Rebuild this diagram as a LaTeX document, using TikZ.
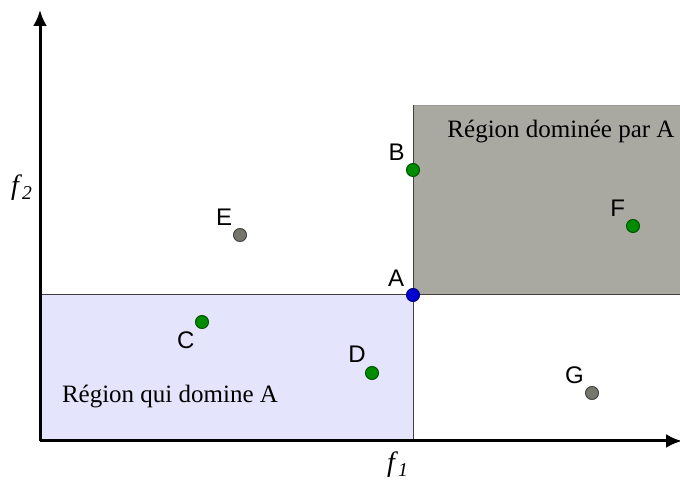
\documentclass[tikz,border=0pt]{standalone}
\usepackage{fontspec}
\setmainfont{Liberation Serif}
\setsansfont{Liberation Sans}
\usetikzlibrary{arrows.meta,positioning}
\definecolor{domblue}{RGB}{228,228,252}
\definecolor{domgray}{RGB}{169,169,162}
\definecolor{ptgreen}{RGB}{0,140,0}
\definecolor{ptgray}{RGB}{118,118,108}
\definecolor{ptblue}{RGB}{0,0,210}

\begin{document}
\begin{tikzpicture}[x=0.5pt,y=0.5pt,
    pt/.style={circle, draw=#1!60!black, fill=#1, line width=0.5pt, minimum size=6.5pt, inner sep=0pt},
    lbl/.style={font=\sffamily\fontsize{12}{14}\selectfont, inner sep=1pt, label distance=1pt},
    region/.style={font=\fontsize{12.5}{15}\selectfont, inner sep=0pt},
    axislbl/.style={font=\fontsize{14}{16}\selectfont, inner sep=0pt},
    axis/.style={line width=1.5pt, -{Latex[length=8pt,width=7pt]}}]
  \useasboundingbox (0,0) rectangle (680,487);

  % Regions
  \fill[domblue] (40,46) rectangle (413,192);
  \fill[domgray] (413,192) rectangle (680,382);
  \draw[black!40, line width=0.4pt] (413,382) -- (680,382);

  % Dividing lines through A
  \coordinate (hl) at (40,192);
  \coordinate (hr) at (680,192);
  \coordinate (vt) at (413,382);
  \coordinate (vb) at (413,46);
  \draw[black!75, line width=0.5pt] (hl) -- (hr);
  \draw[black!75, line width=0.5pt] (vt) -- (vb);

  % Axes
  \coordinate (O) at (40,46);
  \coordinate (ytop) at (40,477);
  \coordinate (xend) at (682,46);
  \draw[axis] (O) -- (ytop);
  \draw[axis] (O) -- (xend);
  \node[axislbl] (f1) at (398,22) {\textit{f}\textsubscript{\textit{1}}};
  \node[axislbl] (f2) at (22,299) {\textit{f}\textsubscript{\textit{2}}};

  % Region labels
  \node[region] (dominee) at (561,355) {Région dominée par A};
  \node[region] (domine) at (170,90) {Région qui domine A};

  % Points
  \foreach \name/\x/\y/\col/\ang in {
      A/413/192/ptblue/135,
      B/413/317/ptgreen/132,
      C/202/165/ptgreen/236,
      D/372/114/ptgreen/116,
      E/240/252/ptgray/128,
      F/633/261/ptgreen/128,
      G/592/94/ptgray/130} {
    \node[pt=\col, label={[lbl]\ang:\name}] (\name) at (\x,\y) {};
  }
\end{tikzpicture}
\end{document}
